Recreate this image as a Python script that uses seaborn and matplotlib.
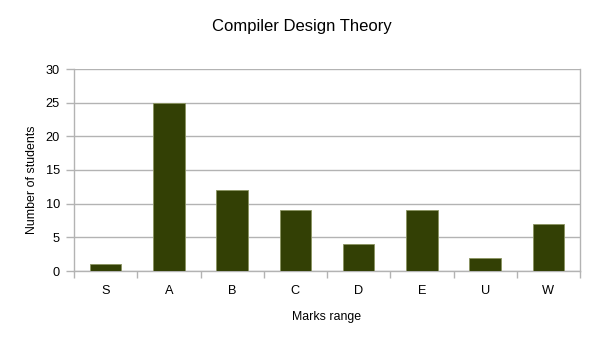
import matplotlib
matplotlib.use("Agg")
import matplotlib.pyplot as plt
import seaborn as sns
import pandas as pd

categories = ["S", "A", "B", "C", "D", "E", "U", "W"]
students = [1, 25, 12, 9, 4, 9, 2, 7]
yticks = [0, 5, 10, 15, 20, 25, 30]

sns.set_theme(style="white")
plt.rcParams['font.family'] = ['Liberation Sans', 'DejaVu Sans']

df = pd.DataFrame({"Marks range": categories, "Number of students": students})

fig = plt.figure(figsize=(6.05, 3.4), dpi=100)
ax = fig.add_axes([74/605, 1-271/340, (580-74)/605, (271-69)/340])

sns.barplot(data=df, x="Marks range", y="Number of students", ax=ax,
            color="#334005", saturation=1, width=0.5,
            edgecolor="#8a9460", linewidth=0.6, zorder=3)

ax.set_ylim(0, 30)
ax.set_xlim(-0.5, len(categories) - 0.5)
ax.set_yticks(yticks)
ax.set_yticklabels([str(v) for v in yticks], fontsize=9.2, color="black")
ax.yaxis.grid(True, color="#b3b3b3", linewidth=1, zorder=0)
ax.set_axisbelow(True)

# x ticks at category boundaries, labels at centers
ax.set_xticks([i - 0.5 for i in range(len(categories) + 1)], minor=False)
ax.set_xticklabels([""] * (len(categories) + 1))
ax.set_xticks(range(len(categories)), minor=True)
ax.set_xticklabels(categories, minor=True, fontsize=9.2, color="black")
ax.tick_params(axis="x", which="major", length=5, width=1, color="#b3b3b3", direction="out", bottom=True)
ax.tick_params(axis="x", which="minor", length=0, pad=10)
ax.tick_params(axis="y", which="major", length=6, width=1, color="#b3b3b3", direction="out", left=True, pad=4)

for s in ["left", "right", "bottom"]:
    ax.spines[s].set_visible(True)
    ax.spines[s].set_color("#b3b3b3")
    ax.spines[s].set_linewidth(1)
ax.spines["top"].set_visible(False)

ax.set_xlabel("Marks range", fontsize=8.9, color="black", labelpad=10)
ax.set_ylabel("Number of students", fontsize=8.9, color="black")
ax.yaxis.set_label_coords(-0.072, 0.453)

fig.text(301.7/605, 1-26/340, "Compiler Design Theory", ha="center", va="center",
         fontsize=12, color="black")

fig.savefig("out.png", dpi=100)
